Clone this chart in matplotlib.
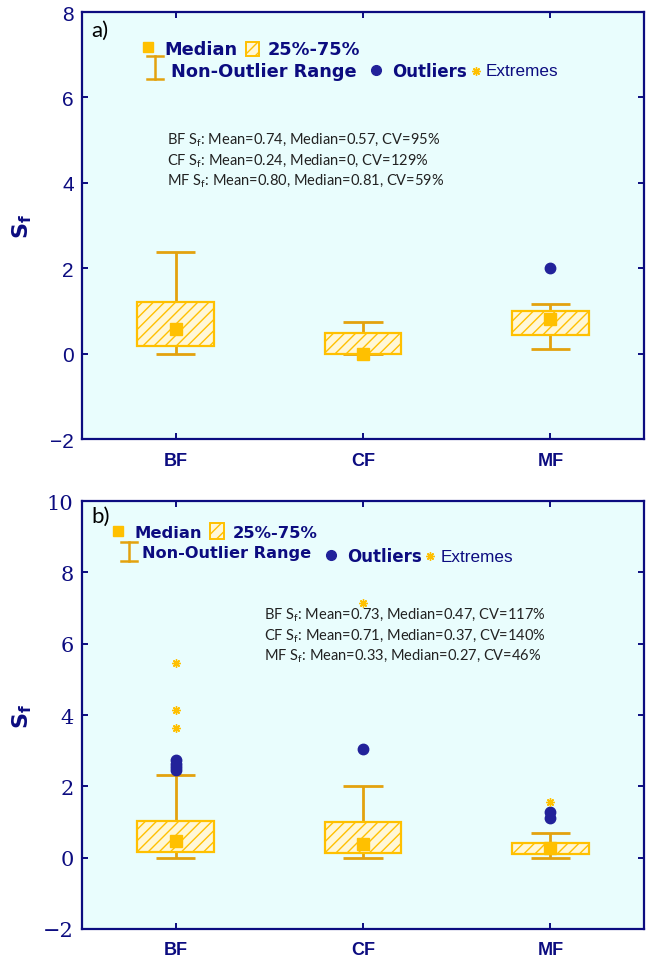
import matplotlib
matplotlib.use("Agg")
import matplotlib.pyplot as plt
import numpy as np
from matplotlib.patches import Rectangle

plt.rcParams["mathtext.fontset"] = "custom"
plt.rcParams["mathtext.rm"] = "Lato"
plt.rcParams["mathtext.it"] = "Lato:italic"
plt.rcParams["mathtext.bf"] = "DejaVu Sans:bold"

# ---- data ----
cats = ["BF", "CF", "MF"]

# panel a)
a_q1 = [0.17, 0.0, 0.44]
a_q3 = [1.21, 0.48, 1.00]
a_lo = [0.0, 0.0, 0.11]
a_hi = [2.38, 0.74, 1.16]
a_median = [0.57, 0.0, 0.81]
a_outliers = [[], [], [2.0]]
a_extremes = [[], [], []]
a_stats = ["BF S$_\\mathrm{f}$: Mean=0.74, Median=0.57, CV=95%",
           "CF S$_\\mathrm{f}$: Mean=0.24, Median=0, CV=129%",
           "MF S$_\\mathrm{f}$: Mean=0.80, Median=0.81, CV=59%"]

# panel b)
b_q1 = [0.17, 0.13, 0.10]
b_q3 = [1.04, 1.01, 0.40]
b_lo = [0.0, 0.0, 0.0]
b_hi = [2.32, 2.02, 0.69]
b_median = [0.47, 0.37, 0.27]
b_outliers = [[2.47, 2.55, 2.63, 2.74], [3.04], [1.11, 1.28]]
b_extremes = [[3.63, 4.14, 5.47], [7.13], [1.56]]
b_stats = ["BF S$_\\mathrm{f}$: Mean=0.73, Median=0.47, CV=117%",
           "CF S$_\\mathrm{f}$: Mean=0.71, Median=0.37, CV=140%",
           "MF S$_\\mathrm{f}$: Mean=0.33, Median=0.27, CV=46%"]

NAVY = "#0c0c80"
GOLD = "#FFC000"
WHISK = "#E3A20E"
FACE = "#FFF7D6"
BG = "#E9FDFD"
DOT = "#22229A"

W, H = 651, 962


def fx(x):
    return x / W


def fy(y):
    return 1 - y / H


def draw_panel(ax, q1, q3, lo, hi, med, outl, extr, ylim, tickfont):
    pos = np.arange(1, len(cats) + 1)
    ax.set_facecolor(BG)
    ax.vlines(pos, lo, q1, color=WHISK, lw=2, zorder=2)
    ax.vlines(pos, q3, hi, color=WHISK, lw=2, zorder=2)
    ax.hlines(lo, pos - 0.105, pos + 0.105, color=WHISK, lw=2, zorder=2)
    ax.hlines(hi, pos - 0.105, pos + 0.105, color=WHISK, lw=2, zorder=2)
    ax.bar(pos, np.subtract(q3, q1), bottom=q1, width=0.41, facecolor=FACE,
           edgecolor=GOLD, hatch="///", lw=1.6, zorder=3)
    ax.plot(pos, med, "s", color=GOLD, ms=8, zorder=4)
    for p, vals in zip(pos, outl):
        ax.plot([p] * len(vals), vals, "o", color=DOT, ms=7.5, zorder=4)
    for p, vals in zip(pos, extr):
        ax.plot([p] * len(vals), vals, marker=(8, 2, 0), ls="none", color=GOLD,
                ms=6, mew=1, zorder=4)

    ax.set_xlim(0.5, 3.5)
    ax.set_ylim(*ylim)
    ax.set_yticks(np.arange(ylim[0], ylim[1] + 1, 2))
    ax.set_xticks(pos)
    ax.set_xticklabels(cats, fontsize=13, fontweight="bold",
                       family="Liberation Sans", color=NAVY)
    for lab in ax.get_yticklabels():
        lab.set_fontsize(15)
        lab.set_family(tickfont)
        lab.set_color(NAVY)
    ax.tick_params(direction="in", top=True, right=True, length=4, width=1.4,
                   color=NAVY)
    ax.tick_params(axis="x", pad=9)
    ax.tick_params(axis="y", pad=6)
    for s in ax.spines.values():
        s.set_color(NAVY)
        s.set_linewidth(1.6)


def draw_legend(fig, ax, sq, box, ibar, dot, star, texts, fs):
    kw = dict(transform=fig.transFigure, clip_on=False)
    ax.plot(fx(sq[0]), fy(sq[1]), "s", color=GOLD, ms=7, **kw)
    r = Rectangle((fx(box[0]), fy(box[3])), fx(box[2] - box[0]), (box[3] - box[1]) / H,
                  transform=fig.transFigure, facecolor=FACE, edgecolor=GOLD,
                  hatch="///", lw=1.4, clip_on=False)
    fig.add_artist(r)
    ax.plot([fx(ibar[0]), fx(ibar[0])], [fy(ibar[1]), fy(ibar[2])], color=WHISK, lw=1.8, **kw)
    for yy in (ibar[1], ibar[2]):
        ax.plot([fx(ibar[0] - 8), fx(ibar[0] + 8)], [fy(yy), fy(yy)], color=WHISK, lw=1.8, **kw)
    ax.plot(fx(dot[0]), fy(dot[1]), "o", color=DOT, ms=7, **kw)
    ax.plot(fx(star[0]), fy(star[1]), marker=(8, 2, 0), color=GOLD, ms=6, mew=1, **kw)
    for (x, y, s), fam, wt, size in zip(texts,
                                        ["DejaVu Sans"] * 4 + ["Liberation Sans"],
                                        ["bold"] * 4 + ["normal"],
                                        fs):
        fig.text(fx(x), fy(y), s, fontsize=size, family=fam, fontweight=wt,
                 color=NAVY, ha="left", va="center")


fig = plt.figure(figsize=(W / 100, H / 100), dpi=100)
ax1 = fig.add_axes([fx(82), fy(440), fx(644 - 82), (440 - 13) / H])
ax2 = fig.add_axes([fx(82), fy(930), fx(644 - 82), (930 - 502) / H])

draw_panel(ax1, a_q1, a_q3, a_lo, a_hi, a_median, a_outliers, a_extremes,
           (-2, 8), "Liberation Sans")
draw_panel(ax2, b_q1, b_q3, b_lo, b_hi, b_median, b_outliers, b_extremes,
           (-2, 10), "DejaVu Serif")

draw_legend(fig, ax1, (148, 48), (246, 43, 259, 57), (155, 57, 80), (376, 71), (476, 72),
            [(164, 50, "Median"), (268, 50, "25%-75%"), (171, 72, "Non-Outlier Range"),
             (392, 72, "Outliers"), (486, 72, "Extremes")],
            [12.8, 12.8, 12.8, 12.0, 12.3])
draw_legend(fig, ax2, (118, 532), (210, 524, 224, 540), (129, 543, 562), (331, 556), (430, 557),
            [(135, 533, "Median"), (233, 533, "25%-75%"), (142, 554, "Non-Outlier Range"),
             (347, 557, "Outliers"), (441, 557, "Extremes")],
            [11.8, 11.8, 11.6, 12.0, 12.3])

for i, s in enumerate(a_stats):
    fig.text(fx(167), fy(140 + 20.5 * i), s, fontsize=10.5, family="Lato",
             color="#222222", ha="left", va="center")
for i, s in enumerate(b_stats):
    fig.text(fx(264), fy(615 + 20.5 * i), s, fontsize=10.5, family="Lato",
             color="#222222", ha="left", va="center")

fig.text(fx(91), fy(31), "a)", fontsize=16, family="Lato", color="black", va="center")
fig.text(fx(91), fy(517), "b)", fontsize=16, family="Lato", color="black", va="center")

for yc in (226, 716):
    fig.text(fx(22), fy(yc), "$\\mathbf{S_f}$", fontsize=16, color=NAVY,
             rotation=90, ha="center", va="center")

fig.savefig("out.png", dpi=100)
